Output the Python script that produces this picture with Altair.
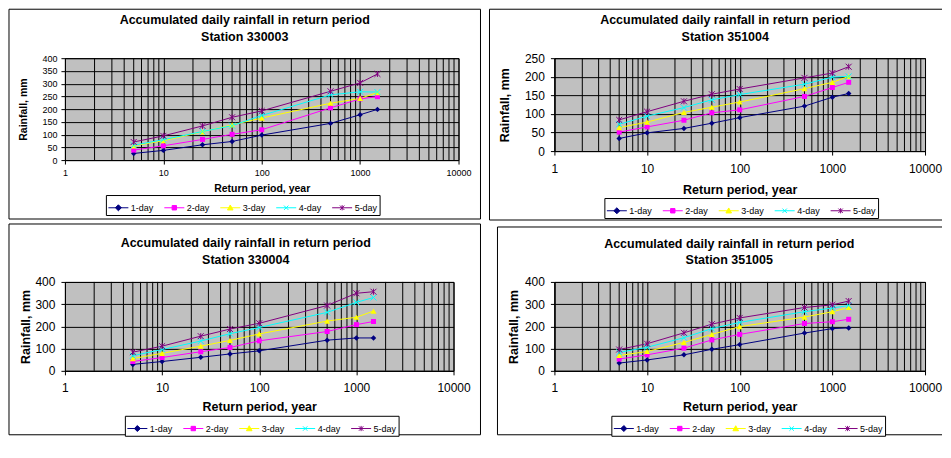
import altair as alt
import pandas as pd

FONT = "Liberation Sans"

periods = [5, 10, 25, 50, 100, 500, 1000, 1500]
series = ["1-day", "2-day", "3-day", "4-day", "5-day"]
colors = ["#000080", "#FF00FF", "#FFFF00", "#00FFFF", "#800080"]
stations = ["330003", "351004", "330004", "351005"]
title_line = "Accumulated daily rainfall in return period"

st_330003 = {
    "1-day": [26, 38, 60, 73, 98, 144, 178, 199],
    "2-day": [39, 56, 81, 101, 119, 205, 240, 249],
    "3-day": [56, 76, 111, 138, 165, 223, 242, 265],
    "4-day": [58, 80, 112, 135, 175, 256, 268, 267],
    "5-day": [71, 95, 134, 168, 193, 270, 303, 338],
}
st_351004 = {
    "1-day": [34, 49, 61, 75, 90, 121, 145, 155],
    "2-day": [51, 65, 83, 103, 111, 147, 171, 185],
    "3-day": [63, 78, 104, 118, 132, 168, 185, 201],
    "4-day": [72, 94, 117, 138, 152, 180, 199, 201],
    "5-day": [84, 106, 134, 153, 167, 197, 210, 227],
}
st_330004 = {
    "1-day": [29, 42, 61, 76, 90, 138, 148, 148],
    "2-day": [42, 60, 86, 105, 135, 177, 208, 222],
    "3-day": [55, 79, 111, 137, 166, 224, 241, 269],
    "4-day": [68, 96, 134, 167, 195, 263, 308, 330],
    "5-day": [84, 111, 156, 188, 214, 294, 349, 356],
}
st_351005 = {
    "1-day": [35, 49, 72, 97, 118, 170, 190, 193],
    "2-day": [53, 72, 102, 139, 164, 213, 221, 232],
    "3-day": [69, 87, 128, 164, 199, 242, 266, 285],
    "4-day": [83, 106, 149, 190, 218, 266, 283, 294],
    "5-day": [96, 122, 171, 210, 238, 285, 297, 314],
}

decades = [1, 10, 100, 1000, 10000]
minor_grid = [m * d for d in [1, 10, 100, 1000] for m in range(2, 10)]

marker_shapes = ["diamond", "square", "triangle-up",
                 "M-1,-1L1,1M-1,1L1,-1",
                 "M-1,-1L1,1M-1,1L1,-1M0,-1L0,1"]
marker_filled = [True, True, True, False, False]
marker_sizes = [30, 25, 36, 36, 36]

legend_paths = [
    "M-1,0L1,0M0,-0.3L0.3,0L0,0.3L-0.3,0Z",
    "M-1,0L1,0M-0.22,-0.22L0.22,-0.22L0.22,0.22L-0.22,0.22Z",
    "M-1,0L1,0M0,-0.28L0.28,0.22L-0.28,0.22Z",
    "M-1,0L1,0M-0.22,-0.22L0.22,0.22M-0.22,0.22L0.22,-0.22",
    "M-1,0L1,0M-0.22,-0.22L0.22,0.22M-0.22,0.22L0.22,-0.22M0,-0.26L0,0.26",
]


def long_df(d):
    rows = []
    for s in series:
        for p, v in zip(periods, d[s]):
            rows.append({"period": p, "value": v, "series": s})
    return pd.DataFrame(rows)


def make_panel(station, d, ymax, ystep, w, h, tick_fs, ax_title_fs, x_lab_pad,
               y_lab_pad, x_title_y, y_title_x, rect, open_right, title_xy,
               leg_x, leg_y):
    df = long_df(d)
    xscale = alt.Scale(type="log", domain=[1, 10000], nice=False)
    yscale = alt.Scale(domain=[0, ymax], nice=False)
    xaxis = alt.Axis(values=decades, format="d", grid=True, gridColor="black",
                     gridOpacity=1, gridWidth=1, tickColor="black", tickSize=4,
                     domainColor="black", labelFont=FONT, labelFontSize=tick_fs,
                     labelColor="black", labelPadding=x_lab_pad, labelFlush=False,
                     title="Return period, year", titleFont=FONT,
                     titleFontSize=ax_title_fs, titleFontWeight="bold",
                     titleColor="black", titleY=x_title_y, titleBaseline="middle")
    yaxis = alt.Axis(values=list(range(0, ymax + 1, ystep)), grid=True,
                     gridColor="black", gridOpacity=1, gridWidth=1,
                     tickColor="black", tickSize=4, domainColor="black",
                     labelFont=FONT, labelFontSize=tick_fs, labelColor="black",
                     labelPadding=y_lab_pad, title="Rainfall, mm", titleFont=FONT,
                     titleFontSize=ax_title_fs, titleFontWeight="bold",
                     titleColor="black", titleX=y_title_x, titleBaseline="middle")
    stroke_scale = alt.Scale(domain=series, range=colors)
    leg = alt.Legend(orient="none", legendX=leg_x, legendY=leg_y,
                     direction="horizontal", title=None, symbolSize=400,
                     symbolStrokeWidth=1, symbolOpacity=1, labelFont=FONT,
                     labelFontSize=9, labelColor="black", strokeColor="black",
                     fillColor="white", padding=2, columnPadding=8, labelOffset=2)

    one = pd.DataFrame({"k": [0]})
    layers = []
    x0, x1, y0, y1 = rect
    if open_right:
        for (a, b, c, e) in [(x0, x0, y0, y1), (x0, x1, y0, y0), (x0, x1, y1, y1)]:
            layers.append(alt.Chart(one).mark_rule(color="black",
                                                   strokeWidth=1).encode(
                x=alt.value(a), x2=alt.value(b), y=alt.value(c), y2=alt.value(e)))
    else:
        layers.append(alt.Chart(one).mark_rect(fill="transparent", stroke="black",
                                               strokeWidth=1).encode(
            x=alt.value(x0), x2=alt.value(x1), y=alt.value(y0), y2=alt.value(y1)))
    tx, ty1, ty2 = title_xy
    for txt, ty in [(title_line, ty1), (f"Station {station}", ty2)]:
        layers.append(alt.Chart(one).mark_text(
            text=txt, font=FONT, fontSize=12.5, fontWeight="bold", color="black",
            align="center", baseline="middle").encode(
            x=alt.value(tx), y=alt.value(ty)))
    grid_df = pd.DataFrame({"g": minor_grid})
    layers.append(alt.Chart(grid_df).mark_rule(color="black", strokeWidth=1).encode(
        x=alt.X("g:Q", scale=xscale, axis=xaxis),
        y=alt.value(0), y2=alt.value(h)))
    layers.append(alt.Chart(df).mark_line(strokeWidth=1).encode(
        x=alt.X("period:Q", scale=xscale, axis=xaxis),
        y=alt.Y("value:Q", scale=yscale, axis=yaxis),
        stroke=alt.Stroke("series:N", scale=stroke_scale, legend=leg)))
    for s, c, shp, fl, sz in zip(series, colors, marker_shapes, marker_filled,
                                 marker_sizes):
        layers.append(alt.Chart(df).transform_filter(alt.datum.series == s)
                      .mark_point(shape=shp, filled=fl, color=c, size=sz,
                                  strokeWidth=1, opacity=1).encode(
            x=alt.X("period:Q", scale=xscale, axis=xaxis),
            y=alt.Y("value:Q", scale=yscale, axis=yaxis)))
    layers.append(alt.Chart(df).transform_filter("false").mark_point(
        filled=True, opacity=1).encode(
        x=alt.X("period:Q", scale=xscale, axis=xaxis),
        y=alt.Y("value:Q", scale=yscale, axis=yaxis),
        shape=alt.Shape("series:N", scale=alt.Scale(domain=series,
                                                    range=legend_paths),
                        legend=leg),
        fill=alt.Fill("series:N", scale=alt.Scale(domain=series, range=colors),
                      legend=leg),
        stroke=alt.Stroke("series:N", scale=stroke_scale, legend=leg)))
    return alt.layer(*layers).properties(width=w, height=h)


p1 = make_panel(stations[0], st_330003, 400, 50, 394, 102, 9, 10.5, 4, 4, 28,
                -41, (-56, 416, -49, 161), False, (180, -38, -21), 41, 137)
p2 = make_panel(stations[1], st_351004, 250, 50, 371, 93, 12, 12.5, 8, 6, 38,
                -50, (-65, 388, -49, 162), True, (171, -38, -21), 50, 140)
p3 = make_panel(stations[2], st_330004, 400, 100, 389, 89, 12, 12.5, 8, 6, 36,
                -39, (-56, 416, -58, 153), False, (181, -39, -22), 60, 134)
p4 = make_panel(stations[3], st_351005, 400, 100, 371, 89, 12, 12.5, 8, 6, 36,
                -41, (-57, 388, -55, 153), True, (175, -38, -22), 57, 134)

ind = dict(stroke="independent", fill="independent", shape="independent")
chart = (alt.concat(p1, p2, p3, p4, columns=2, spacing={"row": 2, "column": 7})
         .resolve_scale(**ind).resolve_legend(**ind)
         .properties(padding=0)
         .configure(font=FONT)
         .configure_view(fill="#C0C0C0", stroke="black", strokeWidth=1))

chart.save("out.html", embed_options={"renderer": "svg", "actions": False})
